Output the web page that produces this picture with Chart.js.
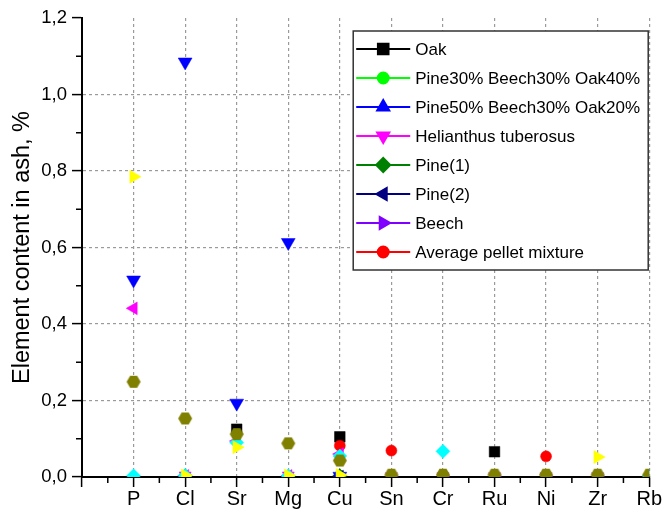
<!DOCTYPE html>
<html>
<head>
<meta charset="utf-8">
<script src="https://cdn.jsdelivr.net/npm/chart.js@4.4.1/dist/chart.umd.min.js"></script>
<style>
  html, body { margin: 0; padding: 0; background: #fff; }
  #wrap { width: 662px; height: 510px; }
</style>
</head>
<body>
<div id="wrap"><canvas id="chart" width="662" height="510"></canvas></div>
<script>
// categories (first one is the empty slot at the y axis)
const elements = ["", "P", "Cl", "Sr", "Mg", "Cu", "Sn", "Cr", "Ru", "Ni", "Zr", "Rb"];
const yMin = 0;
const yMax = 1.2;
const yStep = 0.2;

// series in the legend
const oak        = [null, null,  null,  0.125, null,  0.105, null,  null,  0.066, null,  null,  null];
const pine30     = [null, null,  0.003, null,  0.003, 0.004, null,  null,  null,  null,  null,  null];
const pine50     = [null, null,  null,  null,  null,  0.002, 0.002, 0.002, 0.002, 0.002, 0.002, 0.002];
const helianthus = [null, null,  0.004, null,  0.004, null,  0.002, 0.002, 0.002, 0.002, 0.002, null];
const pine1      = [null, null,  0.003, null,  null,  0.003, null,  null,  null,  null,  null,  null];
const pine2      = [null, null,  null,  null,  null,  0.002, null,  null,  null,  null,  null,  null];
const beech      = [null, null,  null,  null,  null,  null,  0.002, 0.002, 0.002, 0.002, 0.002, null];
const avgPellet  = [null, null,  null,  null,  null,  0.082, 0.069, null,  null,  0.054, null,  null];

// series plotted but not listed in the legend
const blueDown    = [null, 0.515, 1.085, 0.193, 0.613, 0.002, null,  null,  null,  null,  null,  null];
const magentaLeft = [null, 0.441, 0.003, 0.094, 0.003, 0.060, null,  null,  null,  null,  null,  null];
const cyanDiamond = [null, 0.003, 0.004, 0.090, 0.003, 0.055, null,  0.067, null,  null,  null,  0.003];
const yellowRight = [null, 0.785, 0.004, 0.078, 0.004, 0.005, null,  null,  null,  null,  0.052, 0.003];
const oliveHex    = [null, 0.249, 0.153, 0.112, 0.088, 0.043, 0.006, 0.006, 0.006, 0.006, 0.006, 0.006];

const FONT = "'Liberation Sans', Arial, sans-serif";

function hexagon(r, color) {
  const c = document.createElement("canvas");
  const s = Math.ceil(r * 2 + 2);
  c.width = s; c.height = s;
  const g = c.getContext("2d");
  g.fillStyle = color;
  g.beginPath();
  for (let k = 0; k < 6; k++) {
    const a = k * Math.PI / 3;
    const px = s / 2 + r * Math.cos(a), py = s / 2 + r * Math.sin(a);
    k ? g.lineTo(px, py) : g.moveTo(px, py);
  }
  g.closePath();
  g.fill();
  return c;
}

const series = [
  { label: "Oak", data: oak, color: "#000000", style: "rect", r: 7.5, rot: 0, legend: true },
  { label: "Pine30% Beech30% Oak40%", data: pine30, color: "#00ff00", style: "circle", r: 5.5, rot: 0, legend: true },
  { label: "Pine50% Beech30% Oak20%", data: pine50, color: "#0000ff", style: "triangle", r: 7, rot: 0, legend: true },
  { label: "Helianthus tuberosus", data: helianthus, color: "#ff00ff", style: "triangle", r: 7, rot: 180, legend: true },
  { label: "Pine(1)", data: pine1, color: "#008000", style: "rectRot", r: 7, rot: 0, legend: true },
  { label: "Pine(2)", data: pine2, color: "#000080", style: "triangle", r: 7, rot: -90, legend: true },
  { label: "Beech", data: beech, color: "#8000ff", style: "triangle", r: 7, rot: 90, legend: true },
  { label: "Average pellet mixture", data: avgPellet, color: "#ff0000", style: "circle", r: 5.5, rot: 0, legend: true },
  { label: "s9", data: blueDown, color: "#0000ff", style: "triangle", r: 8, rot: 180, legend: false },
  { label: "s10", data: magentaLeft, color: "#ff00ff", style: "triangle", r: 7.3, rot: -90, legend: false },
  { label: "s11", data: cyanDiamond, color: "#00ffff", style: "rectRot", r: 7, rot: 0, legend: false },
  { label: "s12", data: yellowRight, color: "#ffff00", style: "triangle", r: 7.5, rot: 90, legend: false },
  { label: "s13", data: oliveHex, color: "#808000", style: hexagon(7, "#808000"), r: 7, rot: 0, legend: false },
];

const datasets = series.map((s, i) => ({
  label: s.label,
  data: s.data,
  showLine: false,
  pointStyle: s.style,
  pointRadius: s.r,
  pointHoverRadius: s.r,
  pointRotation: s.rot,
  pointBackgroundColor: s.color,
  pointBorderColor: s.color,
  pointBorderWidth: 0.5,
  backgroundColor: s.color,
  borderColor: s.color,
  clip: 0,
  order: series.length - i,
}));

const fmt = (v) => v.toFixed(1).replace(".", ",");

// minor ticks between the major ones
const minorTicks = {
  id: "minorTicks",
  afterDraw(chart) {
    const { ctx, chartArea, scales } = chart;
    ctx.save();
    ctx.strokeStyle = "#000";
    ctx.lineWidth = 1.5;
    ctx.beginPath();
    for (let i = 0; i < elements.length - 1; i++) {
      const x = (scales.x.getPixelForValue(i) + scales.x.getPixelForValue(i + 1)) / 2;
      ctx.moveTo(x, chartArea.bottom);
      ctx.lineTo(x, chartArea.bottom + 6);
    }
    for (let v = yMin + yStep / 2; v < yMax; v += yStep) {
      const y = scales.y.getPixelForValue(v);
      ctx.moveTo(chartArea.left - 6, y);
      ctx.lineTo(chartArea.left, y);
    }
    ctx.stroke();
    ctx.restore();
  }
};

// legend box drawn inside the plot, top right
const boxLegend = {
  id: "boxLegend",
  afterDraw(chart) {
    const { ctx, chartArea } = chart;
    const items = series.filter((s) => s.legend);
    const right = chartArea.right - 1;
    const left = right - 295;
    const top = chartArea.top + 13;
    const rowH = 29;
    const bottom = top + 18 + rowH * (items.length - 1) + 18;
    ctx.save();
    ctx.fillStyle = "#fff";
    ctx.fillRect(left, top, right - left, bottom - top);
    ctx.strokeStyle = "#333";
    ctx.lineWidth = 1.5;
    ctx.strokeRect(left, top, right - left, bottom - top);
    ctx.font = "17px " + FONT;
    ctx.textBaseline = "middle";
    items.forEach((s, i) => {
      const y = top + 18 + i * rowH;
      ctx.strokeStyle = s.color;
      ctx.lineWidth = 2;
      ctx.beginPath();
      ctx.moveTo(left + 3, y);
      ctx.lineTo(left + 57, y);
      ctx.stroke();
      ctx.fillStyle = s.color;
      ctx.strokeStyle = s.color;
      Chart.helpers.drawPoint(ctx, { pointStyle: s.style, radius: s.r, rotation: s.rot, borderWidth: 0.5 }, left + 30, y);
      ctx.fillStyle = "#000";
      ctx.fillText(s.label, left + 62, y + 1);
    });
    ctx.restore();
  }
};

new Chart(document.getElementById("chart"), {
  type: "line",
  data: { labels: elements, datasets },
  plugins: [minorTicks, boxLegend],
  options: {
    responsive: false,
    animation: false,
    devicePixelRatio: 1,
    layout: { padding: { top: 18, right: 12, left: 0, bottom: 0 } },
    plugins: { legend: { display: false }, tooltip: { enabled: false } },
    scales: {
      x: {
        type: "category",
        offset: false,
        afterFit: (scale) => { scale.height = 33; },
        grid: {
          color: (c) => (c.index === 0 ? "rgba(0,0,0,0)" : "#9a9a9a"),
          lineWidth: 1.2,
          tickColor: "#000",
          tickLength: 10,
          tickWidth: 1.5,
        },
        border: { color: "#000", width: 2, dash: [3, 3] },
        ticks: {
          color: "#000",
          font: { family: FONT, size: 20 },
          padding: 0,
          maxRotation: 0,
          autoSkip: false,
        },
      },
      y: {
        min: yMin,
        max: yMax,
        afterFit: (scale) => { scale.width = 82; },
        grid: {
          color: (c) => (c.tick && c.tick.value > 0.01 && c.tick.value < yMax - 0.01 ? "#9a9a9a" : "rgba(0,0,0,0)"),
          lineWidth: 1.2,
          tickColor: "#000",
          tickLength: 10,
          tickWidth: 1.5,
        },
        border: { color: "#000", width: 2, dash: [3, 3] },
        ticks: {
          stepSize: yStep,
          color: "#000",
          font: { family: FONT, size: 18.5 },
          padding: 5,
          callback: (v) => fmt(v),
        },
        title: {
          display: true,
          text: "Element content in ash, %",
          color: "#000",
          font: { family: FONT, size: 23.5 },
          padding: { top: 8, bottom: 0 },
        },
      },
    },
  },
});
</script>
</body>
</html>
